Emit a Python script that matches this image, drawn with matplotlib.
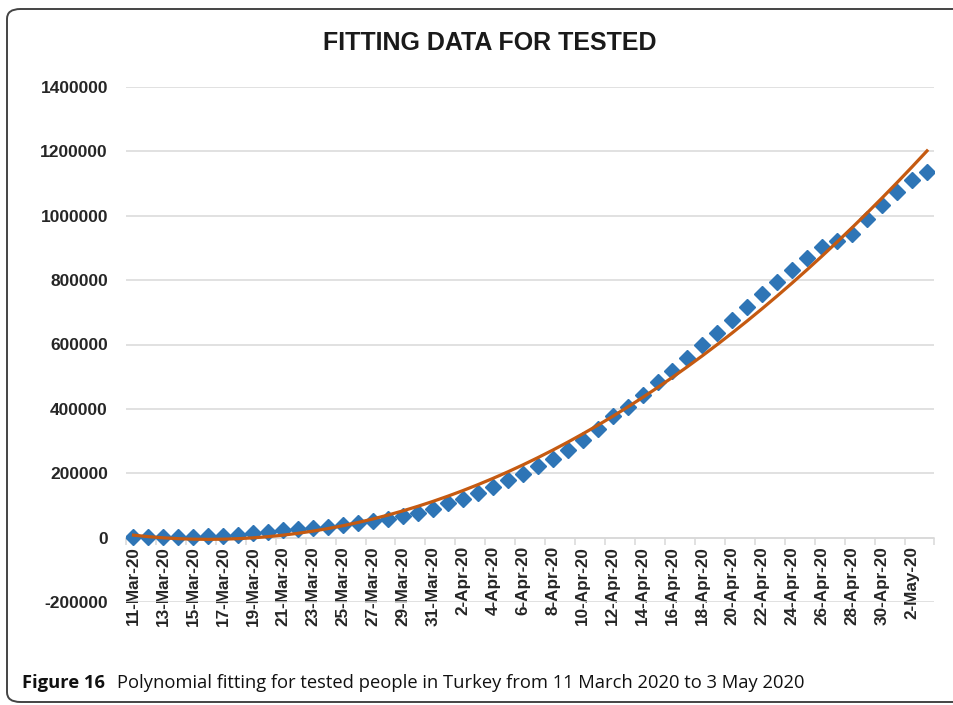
import numpy as np
import matplotlib
matplotlib.use("Agg")
import matplotlib.pyplot as plt
from matplotlib.patches import FancyBboxPatch

# datas: 11-Mar-20 ate 3-May-20, um ponto por dia
dias_mar = [f"{d}-Mar-20" for d in range(11, 32)]
dias_abr = [f"{d}-Apr-20" for d in range(1, 31)]
dias_mai = [f"{d}-May-20" for d in range(1, 4)]
categorias = dias_mar + dias_abr + dias_mai

# total acumulado de testes
testados = [1200, 1500, 1800, 2200, 2800, 3500, 6000, 8500, 13000, 19000,
            24000, 27500, 31000, 34500, 38000, 45000, 53000, 59000, 66000, 77000,
            89000, 108000, 120000, 138000, 156000, 179000, 198000, 221000, 245000, 272000,
            302000, 338000, 379000, 407000, 442000, 483000, 519000, 559000, 600000, 635000,
            675000, 718000, 756000, 794000, 832000, 870000, 903000, 921000, 944000, 989000,
            1032000, 1074000, 1112000, 1136000]

yticks = list(range(-200000, 1400001, 200000))

AZUL = "#2E75B6"
LARANJA = "#C55A11"
FONTE = ["Liberation Sans", "DejaVu Sans"]
FONTE_LEGENDA = ["Open Sans", "DejaVu Sans"]

plt.rcParams["font.family"] = FONTE
plt.rcParams["font.weight"] = "bold"

x = np.arange(len(categorias))
# tendencia polinomial (ordem 2), como no Excel
coef = np.polyfit(x, testados, 2)
tendencia = np.polyval(coef, x)

fig = plt.figure(figsize=(9.54, 7.05), dpi=100)
ax = fig.add_axes([126 / 954, 1 - 602 / 705, 808.5 / 954, 515 / 705])

ax.plot(x, testados, linestyle="none", marker="D", markersize=8,
        color=AZUL, zorder=3)
ax.plot(x, tendencia, color=LARANJA, linewidth=2.3, zorder=4)

ax.set_xlim(-0.5, len(categorias) - 0.5)
ax.set_ylim(-200000, 1400000)

ax.set_yticks(yticks)
ax.set_yticklabels([str(v) for v in yticks])
ax.tick_params(axis="y", length=0, pad=13, labelsize=12.5, labelcolor="#262626")
ax.grid(axis="y", color="#d9d9d9", linewidth=1.1)
ax.set_axisbelow(True)

# marcas entre categorias, rotulos no centro (a cada 2 dias)
ax.set_xticks(np.arange(-0.5, len(categorias), 2))
ax.set_xticks(x[::2], minor=True)
ax.xaxis.set_major_formatter(plt.NullFormatter())
ax.xaxis.set_minor_formatter(plt.FixedFormatter(categorias[::2]))
ax.tick_params(axis="x", which="major", length=5, color="#d9d9d9", width=1.1)
ax.tick_params(axis="x", which="minor", length=0, pad=6, labelrotation=90,
               labelsize=12.3, labelcolor="#262626")

for lado in ["left", "right", "top"]:
    ax.spines[lado].set_visible(False)
ax.spines["bottom"].set_position(("data", 0))
ax.spines["bottom"].set_color("#d9d9d9")
ax.spines["bottom"].set_linewidth(1.1)

fig.text(490 / 954, 1 - 43 / 705, "FITTING DATA FOR TESTED", ha="center",
         va="center", fontweight="bold", fontsize=18, color="#1a1a1a")

# moldura arredondada
moldura = FancyBboxPatch((7 / 954, 1 - 702 / 705), 960 / 954, 693 / 705,
                         boxstyle="round,pad=0,rounding_size=0.014",
                         transform=fig.transFigure, fill=False,
                         edgecolor="#444444", linewidth=1.4, clip_on=False)
fig.patches.append(moldura)

# legenda da figura
t1 = fig.text(22 / 954, 1 - 688 / 705, "Figure 16", ha="left", va="baseline",
              fontfamily=FONTE_LEGENDA, fontweight="bold",
              fontsize=13.2, color="#111111")
fig.canvas.draw()
bb = t1.get_window_extent()
fig.text((bb.x1 + 12) / 954, 1 - 688 / 705,
         "Polynomial fitting for tested people in Turkey from 11 March 2020 to 3 May 2020",
         ha="left", va="baseline", fontfamily=FONTE_LEGENDA, fontweight="normal",
         fontsize=13.2, color="#111111")

plt.savefig("out.png", dpi=100)
plt.close()
